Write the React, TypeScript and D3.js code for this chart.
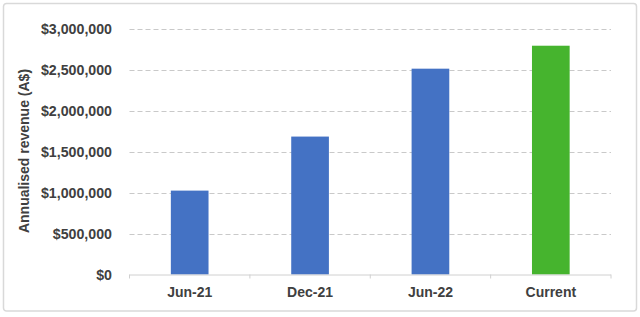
import React from "react";
import * as d3 from "d3";

const categories = ["Jun-21", "Dec-21", "Jun-22", "Current"];
const values = [1023000, 1682000, 2510000, 2790000];
const barColors = ["#4472C4", "#4472C4", "#4472C4", "#46B42E"];
const yTicks = [0, 500000, 1000000, 1500000, 2000000, 2500000, 3000000];
const yTitle = "Annualised revenue (A$)";

export default function App() {
  const W = 640, H = 317;
  const left = 129.5, right = 611, top = 28.5, bottom = 274.5;
  const x = d3.scaleBand<string>().domain(categories).range([left, right]).paddingInner(0.687).paddingOuter(0.3435);
  const xb = d3.scaleBand<string>().domain(categories).range([left, right]);
  const y = d3.scaleLinear().domain([0, 3000000]).range([bottom, top]);
  const fmt = (v: number) => "$" + d3.format(",")(v);
  const font = "'Liberation Sans', Arial, sans-serif";
  const txt = "#404040";
  return (
    <svg width={W} height={H} style={{ position: "absolute", left: 0, top: 0, display: "block" }}>
      <rect x={0} y={0} width={W} height={H} fill="#fff" />
      <rect x={3.5} y={3.5} width={633} height={307.5} rx={3} fill="#fff" stroke="#d9d9d9" strokeWidth={1.5} />
      {yTicks.map((t) => (
        <g key={t}>
          {t > 0 && (
            <line x1={left} x2={right} y1={Math.round(y(t)) + 0.5} y2={Math.round(y(t)) + 0.5}
              stroke="#c9c9c9" strokeWidth={1} strokeDasharray="5,3" />
          )}
          <text x={112} y={y(t)} dy="0.36em" textAnchor="end" fontFamily={font} fontWeight="bold"
            fontSize={14.2} fill={txt}>{fmt(t)}</text>
        </g>
      ))}
      {categories.map((c, i) => (
        <rect key={c} x={x(c)} y={y(values[i])} width={x.bandwidth()} height={y(0) - y(values[i])} fill={barColors[i]} />
      ))}
      <line x1={left} x2={right} y1={bottom + 0.5} y2={bottom + 0.5} stroke="#d0d0d0" strokeWidth={1} />
      {categories.concat([""]).map((c, i) => {
        const xx = i < categories.length ? (xb(c) as number) : right;
        return <line key={"t" + i} x1={xx} x2={xx} y1={bottom} y2={bottom + 4} stroke="#d0d0d0" strokeWidth={1} />;
      })}
      {categories.map((c) => (
        <text key={"l" + c} x={(xb(c) as number) + xb.bandwidth() / 2} y={296.5} textAnchor="middle"
          fontFamily={font} fontWeight="bold" fontSize={14} fill={txt}>{c}</text>
      ))}
      <text transform={`translate(29,151) rotate(-90)`} textAnchor="middle" fontFamily={font}
        fontWeight="bold" fontSize={14} fill={txt}>{yTitle}</text>
    </svg>
  );
}
